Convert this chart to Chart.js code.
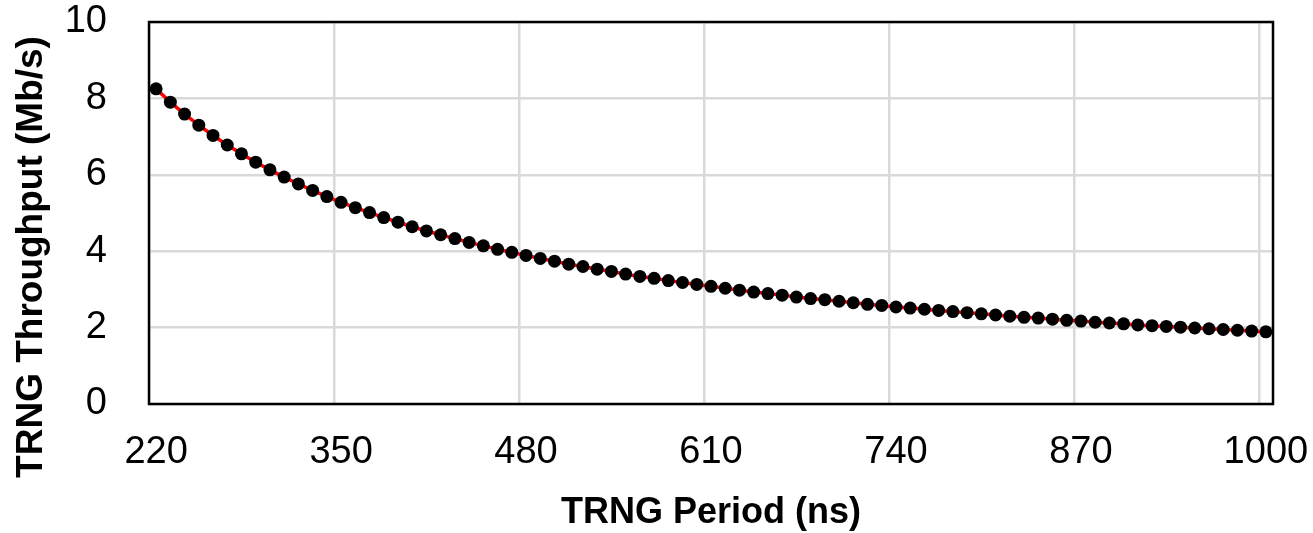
<!DOCTYPE html>
<html>
<head>
<meta charset="utf-8">
<script src="https://cdn.jsdelivr.net/npm/chart.js@4.4.1/dist/chart.umd.min.js"></script>
<style>
html,body{margin:0;padding:0;background:#fff;}
#wrap{width:1313px;height:533px;position:relative;}
</style>
</head>
<body>
<div id="wrap"><canvas id="c" width="1313" height="533"></canvas></div>
<script>
const periods = [220,230,240,250,260,270,280,290,300,310,320,330,340,350,360,370,380,390,400,410,420,430,440,450,460,470,480,490,500,510,520,530,540,550,560,570,580,590,600,610,620,630,640,650,660,670,680,690,700,710,720,730,740,750,760,770,780,790,800,810,820,830,840,850,860,870,880,890,900,910,920,930,940,950,960,970,980,990,1000];
const throughput = [8.25,7.90,7.59,7.30,7.03,6.78,6.55,6.33,6.13,5.94,5.76,5.59,5.43,5.28,5.14,5.01,4.88,4.76,4.64,4.53,4.43,4.33,4.23,4.14,4.05,3.97,3.89,3.81,3.74,3.66,3.60,3.53,3.47,3.40,3.34,3.29,3.23,3.18,3.13,3.08,3.03,2.98,2.93,2.89,2.85,2.80,2.76,2.73,2.69,2.65,2.61,2.58,2.54,2.51,2.48,2.45,2.42,2.39,2.36,2.33,2.30,2.27,2.25,2.22,2.19,2.17,2.14,2.12,2.10,2.07,2.05,2.03,2.01,1.99,1.97,1.95,1.93,1.91,1.89];
const xTickLabels = ['220','350','480','610','740','870','1000'];
const yTicks = [0,2,4,6,8,10];
const xTitle = 'TRNG Period (ns)';
const yTitle = 'TRNG Throughput (Mb/s)';

const FONT = "'Liberation Sans', Arial, sans-serif";

const frame = {
  id: 'frame',
  beforeDatasetsDraw(chart) {
    const a = chart.chartArea, ctx = chart.ctx;
    ctx.save();
    ctx.strokeStyle = '#000';
    ctx.lineWidth = 2.5;
    ctx.strokeRect(a.left, a.top, a.right - a.left, a.bottom - a.top);
    ctx.restore();
  }
};

new Chart(document.getElementById('c'), {
  type: 'line',
  data: {
    labels: periods.map(String),
    datasets: [{
      data: throughput,
      borderColor: '#ff0000',
      borderWidth: 3.5,
      pointRadius: 6.5,
      pointHoverRadius: 6.5,
      pointBackgroundColor: '#000',
      pointBorderColor: '#000',
      pointBorderWidth: 0,
      tension: 0,
      clip: false
    }]
  },
  plugins: [frame],
  options: {
    responsive: false,
    animation: false,
    layout: { padding: { left: 0, right: 40, top: 0, bottom: 19 } },
    plugins: {
      legend: { display: false },
      tooltip: { enabled: false },
      title: {
        display: true,
        text: yTitle,
        position: 'left',
        fullSize: true,
        color: '#000',
        font: { family: FONT, size: 37, weight: 'bold', lineHeight: 1.2 },
        padding: { top: 10, bottom: 12 }
      }
    },
    scales: {
      x: {
        type: 'category',
        offset: true,
        grid: {
          offset: true,
          drawTicks: false,
          lineWidth: 2.5,
          color: (ctx) => (ctx.index % 13 === 0 ? '#d9d9d9' : 'rgba(0,0,0,0)')
        },
        border: { display: false },
        ticks: {
          autoSkip: false,
          maxRotation: 0,
          minRotation: 0,
          padding: 26,
          color: '#000',
          font: { family: FONT, size: 38 },
          callback: function(v, i) {
            const l = this.getLabelForValue(v);
            return xTickLabels.includes(l) ? l : '';
          }
        },
        title: {
          display: true,
          text: xTitle,
          color: '#000',
          font: { family: FONT, size: 36, weight: 'bold', lineHeight: 1.0 },
          padding: { top: 0, bottom: -17 }
        },
        afterFit(scale) {
          scale.height = 110;
          scale.paddingLeft = 0; scale.paddingRight = 0;
          scale.paddingTop = 0; scale.paddingBottom = 0;
        }
      },
      y: {
        min: 0,
        max: 10,
        afterBuildTicks(scale) { scale.ticks = yTicks.map(v => ({ value: v })); },
        grid: { drawTicks: false, lineWidth: 2.5, color: '#d9d9d9' },
        border: { display: false },
        ticks: {
          padding: 42,
          color: '#000',
          font: { family: FONT, size: 38 }
        },
        afterFit(scale) {
          scale.width = 149 - 66.4;
          scale.paddingLeft = 0; scale.paddingRight = 0;
          scale.paddingTop = 22; scale.paddingBottom = 0;
        }
      }
    }
  }
});
</script>
</body>
</html>
